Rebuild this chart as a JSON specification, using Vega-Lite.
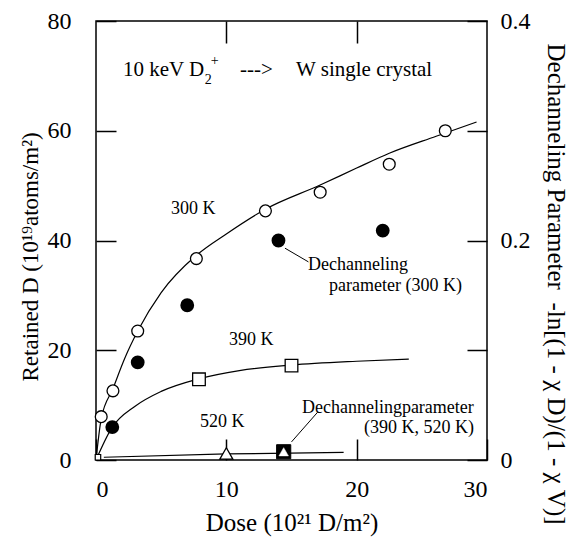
{
  "$schema": "https://vega.github.io/schema/vega-lite/v6.json",
  "width": 391,
  "height": 439,
  "autosize": "none",
  "padding": {"left": 96, "top": 21, "right": 83, "bottom": 79},
  "background": "white",
  "config": {
    "font": "Liberation Serif",
    "view": {"stroke": "black", "strokeWidth": 1.5},
    "axis": {
      "grid": false,
      "domain": false,
      "tickColor": "black",
      "tickWidth": 1.5,
      "labelColor": "black",
      "labelFont": "Liberation Serif",
      "labelFontSize": 24,
      "titleFont": "Liberation Serif",
      "titleFontWeight": "normal",
      "titleColor": "black",
      "titleFontSize": 23
    }
  },
  "datasets": {
    "curves": [
      {"series": "300K", "dose": 0, "val": 0},
      {"series": "300K", "dose": 0.4, "val": 7.5},
      {"series": "300K", "dose": 1.3, "val": 13.0},
      {"series": "300K", "dose": 2.2, "val": 18.5},
      {"series": "300K", "dose": 3.2, "val": 23.5},
      {"series": "300K", "dose": 5.0, "val": 30.5},
      {"series": "300K", "dose": 7.7, "val": 37.3},
      {"series": "300K", "dose": 10.0, "val": 41.2},
      {"series": "300K", "dose": 13.0, "val": 45.7},
      {"series": "300K", "dose": 17.2, "val": 50.1},
      {"series": "300K", "dose": 20.0, "val": 53.2},
      {"series": "300K", "dose": 22.5, "val": 55.9},
      {"series": "300K", "dose": 26.1, "val": 59.0},
      {"series": "300K", "dose": 29.2, "val": 61.6},
      {"series": "390K", "dose": 0, "val": 0},
      {"series": "390K", "dose": 1.2, "val": 5.8},
      {"series": "390K", "dose": 3.0, "val": 9.8},
      {"series": "390K", "dose": 5.0, "val": 12.5},
      {"series": "390K", "dose": 7.9, "val": 14.8},
      {"series": "390K", "dose": 11.0, "val": 16.3},
      {"series": "390K", "dose": 15.0, "val": 17.3},
      {"series": "390K", "dose": 20.0, "val": 18.0},
      {"series": "390K", "dose": 24.0, "val": 18.4},
      {"series": "520K", "dose": 0.6, "val": 0.5},
      {"series": "520K", "dose": 10.0, "val": 1.1},
      {"series": "520K", "dose": 19.0, "val": 1.4}
    ],
    "retained": [
      {"temp": "300K", "dose": 0.4, "val": 7.9},
      {"temp": "300K", "dose": 1.3, "val": 12.6},
      {"temp": "300K", "dose": 3.2, "val": 23.5},
      {"temp": "300K", "dose": 7.7, "val": 36.7},
      {"temp": "300K", "dose": 13.0, "val": 45.4},
      {"temp": "300K", "dose": 17.2, "val": 48.8},
      {"temp": "300K", "dose": 22.5, "val": 53.9},
      {"temp": "300K", "dose": 26.8, "val": 60.0},
      {"temp": "390K", "dose": 0.15, "val": 0.5},
      {"temp": "390K", "dose": 7.9, "val": 14.7},
      {"temp": "390K", "dose": 15.0, "val": 17.2},
      {"temp": "520K", "dose": 10.0, "val": 1.2}
    ],
    "dech": [
      {"temp": "300K", "dose": 1.25, "dp": 0.030},
      {"temp": "300K", "dose": 3.2, "dp": 0.089},
      {"temp": "300K", "dose": 7.0, "dp": 0.141},
      {"temp": "300K", "dose": 14.0, "dp": 0.200},
      {"temp": "300K", "dose": 22.0, "dp": 0.209},
      {"temp": "390K", "dose": 14.4, "dp": 0.0075},
      {"temp": "520K", "dose": 14.4, "dp": 0.0075}
    ],
    "labels": [
      {"text": "300 K", "dose": 5.76, "val": 45.8},
      {"text": "Dechanneling", "dose": 16.27, "val": 35.5},
      {"text": "parameter (300 K)", "dose": 17.88, "val": 31.7},
      {"text": "390 K", "dose": 10.2, "val": 21.9},
      {"text": "520 K", "dose": 7.98, "val": 6.9},
      {"text": "Dechannelingparameter", "dose": 15.8, "val": 9.5},
      {"text": "(390 K, 520 K)", "dose": 20.57, "val": 5.8}
    ],
    "heading": [
      {"text": "10 keV D", "dose": 2.07, "val": 71.1},
      {"text": "--->", "dose": 11.05, "val": 71.0},
      {"text": "W single crystal", "dose": 15.35, "val": 71.0}
    ],
    "headingsmall": [
      {"text": "2", "dose": 8.35, "val": 69.3},
      {"text": "+", "dose": 8.8, "val": 72.7}
    ],
    "leaders": [
      {"dose": 14.5, "val": 38.6, "dose2": 16.3, "val2": 36.1},
      {"dose": 15.0, "val": 3.3, "dose2": 17.0, "val2": 8.7}
    ]
  },
  "resolve": {"scale": {"x": "independent", "y": "independent"}},
  "layer": [
    {
      "layer": [
        {
          "data": {"name": "curves"},
          "mark": {"type": "line", "color": "black", "strokeWidth": 1.2, "interpolate": "monotone"},
          "encoding": {
            "x": {"field": "dose", "type": "quantitative", "scale": {"domain": [0, 30]},
              "axis": {"orient": "bottom", "values": [0, 10, 20, 30], "tickSize": -21, "labelPadding": 38, "title": "Dose (10²¹ D/m²)", "titlePadding": 9, "titleFontSize": 25}},
            "y": {"field": "val", "type": "quantitative", "scale": {"domain": [0, 80]},
              "axis": {"orient": "left", "values": [0, 20, 40, 60, 80], "tickSize": -20, "labelPadding": 45, "title": "Retained D (10¹⁹atoms/m²)", "titlePadding": 5, "titleY": 360, "titleAnchor": "start"}},
            "detail": {"field": "series"}
          }
        },
        {
          "data": {"name": "leaders"},
          "mark": {"type": "rule", "color": "black", "strokeWidth": 1},
          "encoding": {
            "x": {"field": "dose", "type": "quantitative"},
            "y": {"field": "val", "type": "quantitative"},
            "x2": {"field": "dose2"},
            "y2": {"field": "val2"}
          }
        },
        {
          "data": {"name": "retained"},
          "transform": [{"filter": "datum.temp == '300K'"}],
          "mark": {"type": "point", "shape": "circle", "filled": true, "fill": "white", "stroke": "black", "strokeWidth": 1.3, "size": 140, "opacity": 1},
          "encoding": {
            "x": {"field": "dose", "type": "quantitative"},
            "y": {"field": "val", "type": "quantitative"}
          }
        },
        {
          "data": {"name": "retained"},
          "transform": [{"filter": "datum.temp == '390K' && datum.dose > 1"}],
          "mark": {"type": "point", "shape": "square", "filled": true, "fill": "white", "stroke": "black", "strokeWidth": 1.3, "size": 160, "opacity": 1},
          "encoding": {
            "x": {"field": "dose", "type": "quantitative"},
            "y": {"field": "val", "type": "quantitative"}
          }
        },
        {
          "data": {"name": "retained"},
          "transform": [{"filter": "datum.temp == '390K' && datum.dose < 1"}],
          "mark": {"type": "point", "shape": "square", "filled": true, "fill": "white", "stroke": "black", "strokeWidth": 1.2, "size": 30, "opacity": 1},
          "encoding": {
            "x": {"field": "dose", "type": "quantitative"},
            "y": {"field": "val", "type": "quantitative"}
          }
        },
        {
          "data": {"name": "retained"},
          "transform": [{"filter": "datum.temp == '520K'"}],
          "mark": {"type": "point", "shape": "triangle-up", "filled": true, "fill": "white", "stroke": "black", "strokeWidth": 1.3, "size": 170, "opacity": 1},
          "encoding": {
            "x": {"field": "dose", "type": "quantitative"},
            "y": {"field": "val", "type": "quantitative"}
          }
        },
        {
          "data": {"name": "labels"},
          "mark": {"type": "text", "align": "left", "baseline": "middle", "fontSize": 18, "color": "black", "font": "Liberation Serif"},
          "encoding": {
            "x": {"field": "dose", "type": "quantitative"},
            "y": {"field": "val", "type": "quantitative"},
            "text": {"field": "text"}
          }
        },
        {
          "data": {"name": "heading"},
          "mark": {"type": "text", "align": "left", "baseline": "middle", "fontSize": 21, "color": "black", "font": "Liberation Serif"},
          "encoding": {
            "x": {"field": "dose", "type": "quantitative"},
            "y": {"field": "val", "type": "quantitative"},
            "text": {"field": "text"}
          }
        },
        {
          "data": {"name": "headingsmall"},
          "mark": {"type": "text", "align": "left", "baseline": "middle", "fontSize": 14, "color": "black", "font": "Liberation Serif"},
          "encoding": {
            "x": {"field": "dose", "type": "quantitative"},
            "y": {"field": "val", "type": "quantitative"},
            "text": {"field": "text"}
          }
        }
      ]
    },
    {
      "layer": [
        {
          "data": {"name": "dech"},
          "transform": [{"filter": "datum.temp == '300K'"}],
          "mark": {"type": "point", "shape": "circle", "filled": true, "fill": "black", "stroke": "black", "size": 140, "opacity": 1},
          "encoding": {
            "x": {"field": "dose", "type": "quantitative", "scale": {"domain": [0, 30]},
              "axis": {"orient": "top", "values": [10, 20], "labels": false, "tickSize": -22, "title": null}},
            "y": {"field": "dp", "type": "quantitative", "scale": {"domain": [0, 0.4]},
              "axis": {"orient": "right", "values": [0, 0.1, 0.2, 0.3, 0.4], "tickSize": -20, "labelPadding": 33,
                "labelExpr": "datum.value == 0 ? '0' : (datum.value == 0.2 ? '0.2' : (datum.value == 0.4 ? '0.4' : ''))",
                "title": "Dechanneling Parameter\u00a0\u00a0-ln[(1 - χ D)/(1 - χ V)]", "titlePadding": 12, "titleFontSize": 25, "titleAnchor": "start", "titleY": 22}}
          }
        },
        {
          "data": {"name": "dech"},
          "transform": [{"filter": "datum.temp == '390K'"}],
          "mark": {"type": "point", "shape": "square", "filled": true, "fill": "black", "stroke": "black", "strokeWidth": 1, "size": 200, "opacity": 1},
          "encoding": {
            "x": {"field": "dose", "type": "quantitative"},
            "y": {"field": "dp", "type": "quantitative"}
          }
        },
        {
          "data": {"name": "dech"},
          "transform": [{"filter": "datum.temp == '520K'"}],
          "mark": {"type": "point", "shape": "triangle-up", "filled": true, "fill": "white", "stroke": "white", "strokeWidth": 0.5, "size": 90, "opacity": 1},
          "encoding": {
            "x": {"field": "dose", "type": "quantitative"},
            "y": {"field": "dp", "type": "quantitative"}
          }
        }
      ]
    }
  ]
}
